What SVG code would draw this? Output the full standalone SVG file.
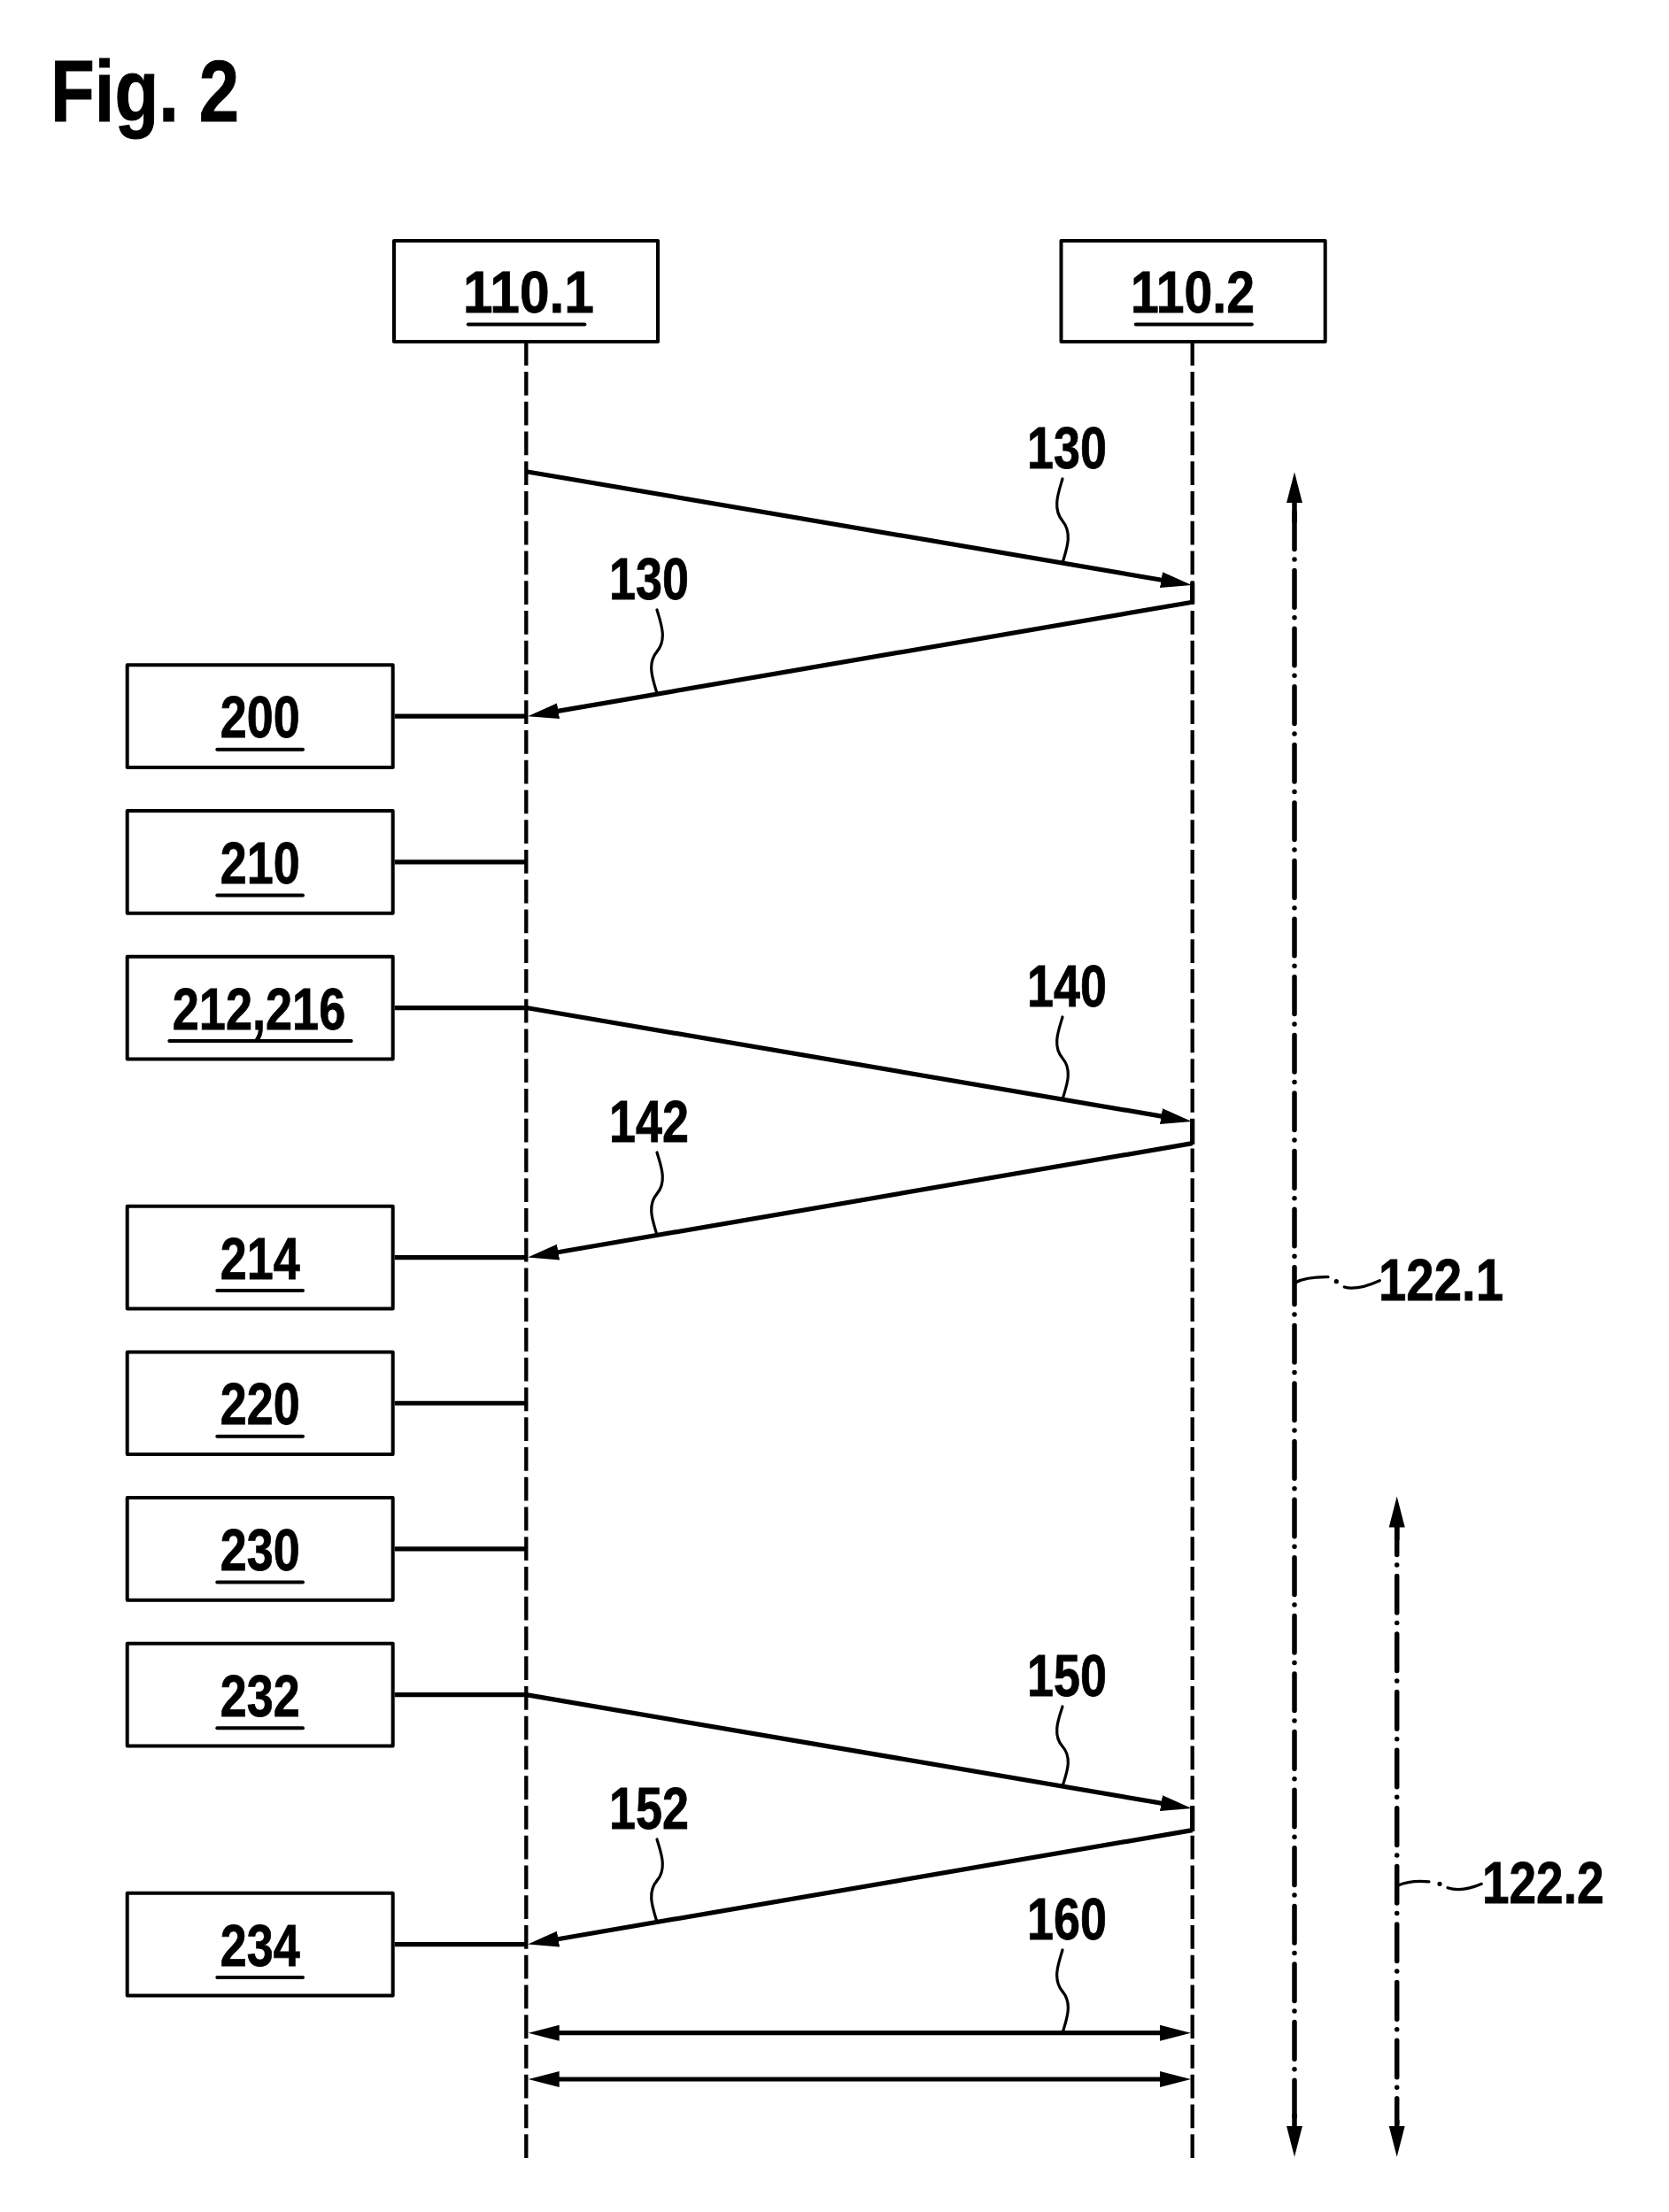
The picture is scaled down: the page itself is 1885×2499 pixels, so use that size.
<svg xmlns="http://www.w3.org/2000/svg" width="1885" height="2499" viewBox="0 0 1885 2499">
  <defs>
    <style>
      .box { fill: #fff; stroke: #000; stroke-width: 4; stroke-linejoin: round; }
      .lbl { font-family: "Liberation Sans Narrow", "Liberation Sans", Arial, sans-serif; font-weight: bold; font-size: 67px; fill: #000; stroke: #000; stroke-width: 0.8; }
      .title { font-family: "Liberation Sans Narrow", "Liberation Sans", Arial, sans-serif; font-weight: bold; font-size: 99px; fill: #000; stroke: #000; stroke-width: 1; }
      .ul { stroke: #000; stroke-width: 4; stroke-linecap: round; }
      .life { fill: none; stroke: #000; stroke-width: 4.3; stroke-dasharray: 26.7 7.05; }
      .msg { fill: none; stroke: #000; stroke-width: 5.2; }
      .lead { fill: none; stroke: #000; stroke-width: 3.2; stroke-linecap: round; }
      .span { fill: none; stroke: #000; stroke-width: 5.5; stroke-linecap: round; stroke-dasharray: 41.6 11.5 0 12.5; }
      .solid { fill: none; stroke: #000; stroke-width: 5.5; }
    </style>
    <marker id="ah" markerUnits="userSpaceOnUse" viewBox="0 -10 36 20" markerWidth="36" markerHeight="20" refX="5" refY="0" orient="auto-start-reverse">
      <path d="M0,-9 L35,0 L0,9 Z" fill="#000"/>
    </marker>
  </defs>

  <rect width="1885" height="2499" fill="#fff"/>

  <text class="title" x="57" y="137" textLength="213" lengthAdjust="spacingAndGlyphs">Fig. 2</text>

  <!-- participants -->
  <g id="node-110-1">
    <rect class="box" x="445" y="272" width="298" height="114"/>
    <text class="lbl" x="523" y="353" textLength="148" lengthAdjust="spacingAndGlyphs">110.1</text>
    <line class="ul" x1="528.8" y1="366.4" x2="660.4" y2="366.4"/>
  </g>
  <g id="node-110-2">
    <rect class="box" x="1198.5" y="272" width="298.2" height="114"/>
    <text class="lbl" x="1277" y="353" textLength="140" lengthAdjust="spacingAndGlyphs">110.2</text>
    <line class="ul" x1="1282.8" y1="366.4" x2="1413.8" y2="366.4"/>
  </g>

  <!-- process steps -->
  <g id="node-200">
    <rect class="box" x="143.7" y="751.3" width="300" height="115.7"/>
    <text class="lbl" x="293.7" y="833.3" text-anchor="middle" textLength="90" lengthAdjust="spacingAndGlyphs">200</text>
    <line class="ul" x1="245.3" y1="846.7" x2="342" y2="846.7"/>
  </g>
  <g id="node-210">
    <rect class="box" x="143.7" y="916" width="300" height="115.7"/>
    <text class="lbl" x="293.7" y="998" text-anchor="middle" textLength="90" lengthAdjust="spacingAndGlyphs">210</text>
    <line class="ul" x1="245.3" y1="1011.4" x2="342" y2="1011.4"/>
  </g>
  <g id="node-212-216">
    <rect class="box" x="143.7" y="1080.7" width="300" height="115.7"/>
    <text class="lbl" x="292.5" y="1162.7" text-anchor="middle" textLength="195.5" lengthAdjust="spacingAndGlyphs">212,216</text>
    <line class="ul" x1="191.3" y1="1176.1" x2="396.7" y2="1176.1"/>
  </g>
  <g id="node-214">
    <rect class="box" x="143.7" y="1362.7" width="300" height="115.7"/>
    <text class="lbl" x="293.7" y="1444.7" text-anchor="middle" textLength="90" lengthAdjust="spacingAndGlyphs">214</text>
    <line class="ul" x1="245.3" y1="1458.1" x2="342" y2="1458.1"/>
  </g>
  <g id="node-220">
    <rect class="box" x="143.7" y="1527.4" width="300" height="115.7"/>
    <text class="lbl" x="293.7" y="1609.4" text-anchor="middle" textLength="90" lengthAdjust="spacingAndGlyphs">220</text>
    <line class="ul" x1="245.3" y1="1622.8" x2="342" y2="1622.8"/>
  </g>
  <g id="node-230">
    <rect class="box" x="143.7" y="1692.1" width="300" height="115.7"/>
    <text class="lbl" x="293.7" y="1774.1" text-anchor="middle" textLength="90" lengthAdjust="spacingAndGlyphs">230</text>
    <line class="ul" x1="245.3" y1="1787.5" x2="342" y2="1787.5"/>
  </g>
  <g id="node-232">
    <rect class="box" x="143.7" y="1856.8" width="300" height="115.7"/>
    <text class="lbl" x="293.7" y="1938.8" text-anchor="middle" textLength="90" lengthAdjust="spacingAndGlyphs">232</text>
    <line class="ul" x1="245.3" y1="1952.2" x2="342" y2="1952.2"/>
  </g>
  <g id="node-234">
    <rect class="box" x="143.7" y="2138.7" width="300" height="115.7"/>
    <text class="lbl" x="293.7" y="2220.7" text-anchor="middle" textLength="90" lengthAdjust="spacingAndGlyphs">234</text>
    <line class="ul" x1="245.3" y1="2234.1" x2="342" y2="2234.1"/>
  </g>

  <!-- connectors -->
  <g id="connectors">
    <!-- lifelines -->
    <path class="life" d="M594.3,386.25 V2438.3"/>
    <path class="life" d="M1346.7,386.25 V2438.3"/>

    <!-- step stubs to lifeline 110.1 -->
    <line class="msg" x1="445.7" y1="809.15" x2="594.3" y2="809.15"/>
    <line class="msg" x1="445.7" y1="973.85" x2="594.3" y2="973.85"/>
    <line class="msg" x1="445.7" y1="1138.55" x2="594.3" y2="1138.55"/>
    <line class="msg" x1="445.7" y1="1420.55" x2="594.3" y2="1420.55"/>
    <line class="msg" x1="445.7" y1="1585.25" x2="594.3" y2="1585.25"/>
    <line class="msg" x1="445.7" y1="1749.95" x2="594.3" y2="1749.95"/>
    <line class="msg" x1="445.7" y1="1914.65" x2="594.3" y2="1914.65"/>
    <line class="msg" x1="445.7" y1="2196.55" x2="594.3" y2="2196.55"/>

    <!-- 130 request / response -->
    <path class="msg" d="M594.3,532.7 L1316.4,655.95" marker-end="url(#ah)"/>
    <path class="msg" d="M1346.7,658 V682"/>
    <path class="msg" d="M1346.7,680.2 L625.6,804.1" marker-end="url(#ah)"/>

    <!-- 140 / 142 -->
    <path class="msg" d="M594.3,1138.55 L1316.4,1261.85" marker-end="url(#ah)"/>
    <path class="msg" d="M1346.7,1264 V1293"/>
    <path class="msg" d="M1346.7,1291.6 L625.6,1415.5" marker-end="url(#ah)"/>

    <!-- 150 / 152 -->
    <path class="msg" d="M594.3,1914.65 L1316.4,2037.95" marker-end="url(#ah)"/>
    <path class="msg" d="M1346.7,2040 V2069"/>
    <path class="msg" d="M1346.7,2067.6 L625.6,2191.5" marker-end="url(#ah)"/>

    <!-- 160 bidirectional exchange -->
    <path class="msg" d="M626.7,2296.7 H1315" marker-start="url(#ah)" marker-end="url(#ah)"/>
    <path class="msg" d="M626.7,2349 H1315" marker-start="url(#ah)" marker-end="url(#ah)"/>

    <!-- reference leaders -->
    <path class="lead" d="M1200,541 c-4,14 -12,33 0,47.5 s4,33 0,47.5"/>
    <path class="lead" d="M742,689 c4,14 12,33 0,47.1 s-4,33 0,47.1"/>
    <path class="lead" d="M1200,1149 c-4,14 -12,32.5 0,46.5 s4,32.5 0,46.5"/>
    <path class="lead" d="M742,1302 c4,14 12,32.6 0,46.6 s-4,32.6 0,46.6"/>
    <path class="lead" d="M1200,1928 c-4,13 -12,31.5 0,45 s4,31.5 0,45"/>
    <path class="lead" d="M742,2078 c4,14 12,32.6 0,46.65 s-4,32.6 0,46.65"/>
    <path class="lead" d="M1200,2203 c-4,14 -12,32.8 0,46.85 s4,32.8 0,46.85"/>

    <!-- time span 122.1 -->
    <path class="span" d="M1462,579 V2399"/>
    <path class="solid" d="M1462,590 V563.3" marker-end="url(#ah)"/>
    <path class="solid" d="M1462,2388 V2406.7" marker-end="url(#ah)"/>
    <path class="lead" d="M1463,1449 C1472,1444 1484,1442.5 1500,1442.7"/>
    <circle cx="1509.3" cy="1447.7" r="2.6" fill="#000"/>
    <path class="lead" d="M1518.3,1454 C1528,1457 1540,1455 1558.3,1446.7"/>

    <!-- time span 122.2 -->
    <path class="span" d="M1577.7,1714.8 V2399"/>
    <path class="solid" d="M1577.7,1740 V1720.5" marker-end="url(#ah)"/>
    <path class="solid" d="M1577.7,2395 V2406.7" marker-end="url(#ah)"/>
    <path class="lead" d="M1579,2130 C1588,2126 1600,2124.5 1614,2125.8"/>
    <circle cx="1626" cy="2128.3" r="2.6" fill="#000"/>
    <path class="lead" d="M1635,2132.7 C1645,2136 1658,2135 1673.3,2128.3"/>
  </g>

  <!-- reference numerals -->
  <g id="labels">
    <text class="lbl" x="1160" y="529" textLength="90" lengthAdjust="spacingAndGlyphs">130</text>
    <text class="lbl" x="688" y="677" textLength="90" lengthAdjust="spacingAndGlyphs">130</text>
    <text class="lbl" x="1160" y="1137" textLength="90" lengthAdjust="spacingAndGlyphs">140</text>
    <text class="lbl" x="688" y="1290" textLength="90" lengthAdjust="spacingAndGlyphs">142</text>
    <text class="lbl" x="1160" y="1916" textLength="90" lengthAdjust="spacingAndGlyphs">150</text>
    <text class="lbl" x="688" y="2066" textLength="90" lengthAdjust="spacingAndGlyphs">152</text>
    <text class="lbl" x="1160" y="2191" textLength="90" lengthAdjust="spacingAndGlyphs">160</text>
    <text class="lbl" x="1557" y="1469" textLength="141" lengthAdjust="spacingAndGlyphs">122.1</text>
    <text class="lbl" x="1674" y="2150" textLength="137.5" lengthAdjust="spacingAndGlyphs">122.2</text>
  </g>
</svg>
